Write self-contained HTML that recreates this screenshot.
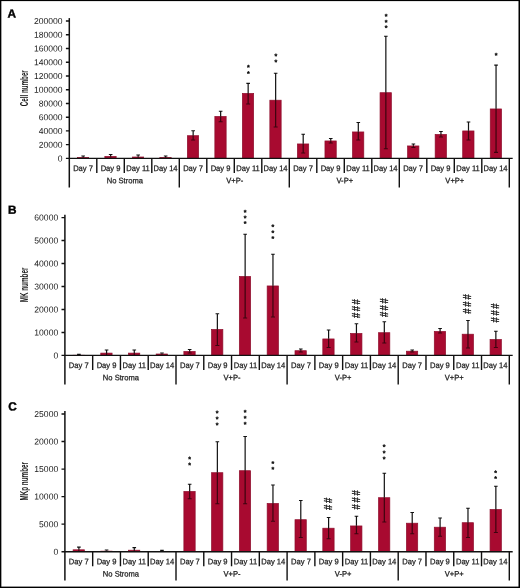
<!DOCTYPE html>
<html lang="en"><head><meta charset="utf-8"><title>Figure</title>
<style>html,body{margin:0;padding:0;background:#fff}body{width:520px;height:588px;overflow:hidden}svg{display:block;will-change:transform}
text{font-family:"Liberation Sans",Arial,Helvetica,sans-serif;fill:#222222}
.t{font-size:8.6px;text-anchor:end}
.d{font-size:8.0px;text-anchor:middle;stroke:#222222;stroke-width:.25px}
.g{font-size:7.9px;text-anchor:middle;stroke:#222222;stroke-width:.25px}
.L{font-size:11.8px;font-weight:bold;fill:#000;stroke:#000;stroke-width:.4px}
.y{font-size:10.0px;font-weight:bold;text-anchor:middle;fill:#1a1a1a}
.a{font-size:7.0px;font-weight:bold;text-anchor:middle;fill:#000;stroke:#000;stroke-width:.3px;stroke-linejoin:round}
.h{font-size:9.5px;text-anchor:middle;fill:#111;stroke:#111;stroke-width:.25px}
.b{fill:#a80a30;stroke:#8e0f2d;stroke-width:.7px}
.l{stroke:#111111;stroke-width:1.4;fill:none}.e{stroke:#111111;stroke-width:1.2;fill:none}.i{stroke:#3d040f;stroke-width:1.2;fill:none}
</style></head><body>
<svg width="520" height="588" viewBox="0 0 520 588">
<rect x="0" y="0" width="520" height="588" fill="#fff"/>
<rect x="0" y="0" width="520" height="1.1" fill="#000"/>
<rect x="0" y="0" width="1.35" height="588" fill="#000"/>
<rect x="518.5" y="0" width="1.5" height="588" fill="#000"/>
<rect x="0" y="586.6" width="520" height="1.4" fill="#000"/>
<g>
<text class="L" transform="translate(7.50 17.60) rotate(.05)">A</text>
<text class="y" transform="translate(27.90 88.20) rotate(-90)" textLength="36.0" lengthAdjust="spacingAndGlyphs">Cell number</text>
<rect class="b" x="77.35" y="157.40" width="11.30" height="1.00"/>
<rect class="b" x="104.85" y="156.40" width="11.30" height="2.00"/>
<rect class="b" x="132.35" y="157.00" width="11.30" height="1.40"/>
<rect class="b" x="159.85" y="157.40" width="11.30" height="1.00"/>
<rect class="b" x="187.35" y="135.70" width="11.30" height="22.70"/>
<rect class="b" x="214.85" y="116.45" width="11.30" height="41.95"/>
<rect class="b" x="242.35" y="93.40" width="11.30" height="65.00"/>
<rect class="b" x="269.85" y="100.20" width="11.30" height="58.20"/>
<rect class="b" x="297.40" y="143.95" width="11.30" height="14.45"/>
<rect class="b" x="324.95" y="140.95" width="11.30" height="17.45"/>
<rect class="b" x="352.50" y="131.95" width="11.30" height="26.45"/>
<rect class="b" x="380.05" y="92.70" width="11.30" height="65.70"/>
<rect class="b" x="407.60" y="145.95" width="11.30" height="12.45"/>
<rect class="b" x="435.15" y="134.45" width="11.30" height="23.95"/>
<rect class="b" x="462.70" y="130.95" width="11.30" height="27.45"/>
<rect class="b" x="490.25" y="108.95" width="11.30" height="49.45"/>
<path class="e" d="M83.15 156.00V157.20M81.35 156.00H84.95"/>
<path class="i" d="M83.15 157.20V157.80"/>
<path class="e" d="M110.65 154.50V156.20M108.85 154.50H112.45"/>
<path class="i" d="M110.65 156.20V157.60"/>
<path class="e" d="M138.15 155.00V156.80M136.35 155.00H139.95"/>
<path class="i" d="M138.15 156.80V157.80"/>
<path class="e" d="M165.65 156.00V157.20M163.85 156.00H167.45"/>
<path class="i" d="M165.65 157.20V157.80"/>
<path class="e" d="M193.15 130.75V135.50M191.35 130.75H194.95"/>
<path class="i" d="M193.15 135.50V140.00M191.15 140.00H195.15"/>
<path class="e" d="M220.65 111.25V116.25M218.85 111.25H222.45"/>
<path class="i" d="M220.65 116.25V121.75M218.65 121.75H222.65"/>
<path class="e" d="M248.15 83.40V93.20M246.35 83.40H249.95"/>
<path class="i" d="M248.15 93.20V104.00M246.15 104.00H250.15"/>
<path class="e" d="M275.65 73.25V100.00M273.85 73.25H277.45"/>
<path class="i" d="M275.65 100.00V127.00M273.65 127.00H277.65"/>
<path class="e" d="M303.20 134.25V143.75M301.40 134.25H305.00"/>
<path class="i" d="M303.20 143.75V153.00M301.20 153.00H305.20"/>
<path class="e" d="M330.75 138.50V140.75M328.95 138.50H332.55"/>
<path class="i" d="M330.75 140.75V143.00M328.75 143.00H332.75"/>
<path class="e" d="M358.30 122.50V131.75M356.50 122.50H360.10"/>
<path class="i" d="M358.30 131.75V140.00M356.30 140.00H360.30"/>
<path class="e" d="M385.85 36.25V92.50M384.05 36.25H387.65"/>
<path class="i" d="M385.85 92.50V148.75M383.85 148.75H387.85"/>
<path class="e" d="M413.40 144.00V145.75M411.60 144.00H415.20"/>
<path class="i" d="M413.40 145.75V147.50M411.40 147.50H415.40"/>
<path class="e" d="M440.95 131.50V134.25M439.15 131.50H442.75"/>
<path class="i" d="M440.95 134.25V137.00M438.95 137.00H442.95"/>
<path class="e" d="M468.50 122.00V130.75M466.70 122.00H470.30"/>
<path class="i" d="M468.50 130.75V140.00M466.50 140.00H470.50"/>
<path class="e" d="M496.05 65.20V108.75M494.25 65.20H497.85"/>
<path class="i" d="M496.05 108.75V152.30M494.05 152.30H498.05"/>
<path class="l" style="stroke-width:1.5" d="M69.30 18.10V187.50"/>
<path class="l" d="M68.50 158.40H512.70M65.90 158.40H69.30M65.90 144.66H69.30M65.90 130.92H69.30M65.90 117.18H69.30M65.90 103.44H69.30M65.90 89.70H69.30M65.90 75.96H69.30M65.90 62.22H69.30M65.90 48.48H69.30M65.90 34.74H69.30M65.90 21.00H69.30M96.80 158.40V173.00M124.30 158.40V173.00M151.80 158.40V173.00M179.30 158.40V187.50M206.80 158.40V173.00M234.30 158.40V173.00M261.80 158.40V173.00M289.30 158.40V187.50M316.80 158.40V173.00M344.30 158.40V173.00M371.80 158.40V173.00M399.30 158.40V187.50M426.80 158.40V173.00M454.30 158.40V173.00M481.80 158.40V173.00M509.30 158.40V187.50"/>
<text class="t" transform="translate(62.60 161.40) rotate(.05)">0</text>
<text class="t" transform="translate(62.60 147.66) rotate(.05)">20000</text>
<text class="t" transform="translate(62.60 133.92) rotate(.05)">40000</text>
<text class="t" transform="translate(62.60 120.18) rotate(.05)">60000</text>
<text class="t" transform="translate(62.60 106.44) rotate(.05)">80000</text>
<text class="t" transform="translate(62.60 92.70) rotate(.05)">100000</text>
<text class="t" transform="translate(62.60 78.96) rotate(.05)">120000</text>
<text class="t" transform="translate(62.60 65.22) rotate(.05)">140000</text>
<text class="t" transform="translate(62.60 51.48) rotate(.05)">160000</text>
<text class="t" transform="translate(62.60 37.74) rotate(.05)">180000</text>
<text class="t" transform="translate(62.60 24.00) rotate(.05)">200000</text>
<text class="d" transform="translate(83.05 171.00) rotate(.05) scale(.95 1)">Day 7</text>
<text class="d" transform="translate(110.55 171.00) rotate(.05) scale(.95 1)">Day 9</text>
<text class="d" transform="translate(138.05 171.00) rotate(.05) scale(.95 1)">Day 11</text>
<text class="d" transform="translate(165.55 171.00) rotate(.05) scale(.95 1)">Day 14</text>
<text class="d" transform="translate(193.05 171.00) rotate(.05) scale(.95 1)">Day 7</text>
<text class="d" transform="translate(220.55 171.00) rotate(.05) scale(.95 1)">Day 9</text>
<text class="d" transform="translate(248.05 171.00) rotate(.05) scale(.95 1)">Day 11</text>
<text class="d" transform="translate(275.55 171.00) rotate(.05) scale(.95 1)">Day 14</text>
<text class="d" transform="translate(303.05 171.00) rotate(.05) scale(.95 1)">Day 7</text>
<text class="d" transform="translate(330.55 171.00) rotate(.05) scale(.95 1)">Day 9</text>
<text class="d" transform="translate(358.05 171.00) rotate(.05) scale(.95 1)">Day 11</text>
<text class="d" transform="translate(385.55 171.00) rotate(.05) scale(.95 1)">Day 14</text>
<text class="d" transform="translate(413.05 171.00) rotate(.05) scale(.95 1)">Day 7</text>
<text class="d" transform="translate(440.55 171.00) rotate(.05) scale(.95 1)">Day 9</text>
<text class="d" transform="translate(468.05 171.00) rotate(.05) scale(.95 1)">Day 11</text>
<text class="d" transform="translate(495.55 171.00) rotate(.05) scale(.95 1)">Day 14</text>
<text class="g" transform="translate(124.80 183.30) rotate(.05) scale(.96 1)">No Stroma</text>
<text class="g" transform="translate(234.80 183.30) rotate(.05) scale(.96 1)">V+P-</text>
<text class="g" transform="translate(344.80 183.30) rotate(.05) scale(.96 1)">V-P+</text>
<text class="g" transform="translate(454.80 183.30) rotate(.05) scale(.96 1)">V+P+</text>
<text class="a" transform="translate(248.30 69.80) rotate(.05)">*</text>
<text class="a" transform="translate(248.30 76.05) rotate(.05)">*</text>
<text class="a" transform="translate(275.80 58.55) rotate(.05)">*</text>
<text class="a" transform="translate(275.80 64.55) rotate(.05)">*</text>
<text class="a" transform="translate(386.00 18.75) rotate(.05)">*</text>
<text class="a" transform="translate(386.00 24.65) rotate(.05)">*</text>
<text class="a" transform="translate(386.00 30.35) rotate(.05)">*</text>
<text class="a" transform="translate(496.20 57.80) rotate(.05)">*</text>
</g>
<g>
<text class="L" transform="translate(8.00 213.80) rotate(.05)">B</text>
<text class="y" transform="translate(27.90 285.00) rotate(-90)" textLength="34.7" lengthAdjust="spacingAndGlyphs">MK number</text>
<rect class="b" style="stroke:none" x="72.74" y="354.90" width="12.00" height="0.50"/>
<rect class="b" x="100.78" y="353.10" width="11.30" height="2.30"/>
<rect class="b" x="128.48" y="353.10" width="11.30" height="2.30"/>
<rect class="b" x="156.17" y="354.00" width="11.30" height="1.40"/>
<rect class="b" x="183.87" y="351.45" width="11.30" height="3.95"/>
<rect class="b" x="211.56" y="329.45" width="11.30" height="25.95"/>
<rect class="b" x="239.34" y="276.45" width="11.30" height="78.95"/>
<rect class="b" x="267.16" y="285.95" width="11.30" height="69.45"/>
<rect class="b" x="294.99" y="350.70" width="11.30" height="4.70"/>
<rect class="b" x="322.81" y="338.95" width="11.30" height="16.45"/>
<rect class="b" x="350.64" y="333.45" width="11.30" height="21.95"/>
<rect class="b" x="378.52" y="332.70" width="11.30" height="22.70"/>
<rect class="b" x="406.41" y="351.20" width="11.30" height="4.20"/>
<rect class="b" x="434.29" y="331.45" width="11.30" height="23.95"/>
<rect class="b" x="462.18" y="334.20" width="11.30" height="21.20"/>
<rect class="b" x="490.06" y="339.45" width="11.30" height="15.95"/>
<path class="e" d="M78.89 354.30V354.90M77.09 354.30H80.69"/>
<path class="i" d="M78.89 354.90V355.00"/>
<path class="e" d="M106.58 350.00V352.90M104.78 350.00H108.38"/>
<path class="i" d="M106.58 352.90V355.00"/>
<path class="e" d="M134.28 350.00V352.90M132.48 350.00H136.08"/>
<path class="i" d="M134.28 352.90V355.00"/>
<path class="e" d="M161.97 353.00V353.80M160.17 353.00H163.77"/>
<path class="i" d="M161.97 353.80V354.80"/>
<path class="e" d="M189.67 349.50V351.25M187.87 349.50H191.47"/>
<path class="i" d="M189.67 351.25V353.00M187.67 353.00H191.67"/>
<path class="e" d="M217.36 313.75V329.25M215.56 313.75H219.16"/>
<path class="i" d="M217.36 329.25V345.50M215.36 345.50H219.36"/>
<path class="e" d="M245.14 234.25V276.25M243.34 234.25H246.94"/>
<path class="i" d="M245.14 276.25V318.00M243.14 318.00H247.14"/>
<path class="e" d="M272.96 254.25V285.75M271.16 254.25H274.76"/>
<path class="i" d="M272.96 285.75V317.00M270.96 317.00H274.96"/>
<path class="e" d="M300.79 349.00V350.50M298.99 349.00H302.59"/>
<path class="i" d="M300.79 350.50V352.00M298.79 352.00H302.79"/>
<path class="e" d="M328.61 330.00V338.75M326.81 330.00H330.41"/>
<path class="i" d="M328.61 338.75V347.50M326.61 347.50H330.61"/>
<path class="e" d="M356.44 323.75V333.25M354.64 323.75H358.24"/>
<path class="i" d="M356.44 333.25V342.00M354.44 342.00H358.44"/>
<path class="e" d="M384.32 321.75V332.50M382.52 321.75H386.12"/>
<path class="i" d="M384.32 332.50V343.00M382.32 343.00H386.32"/>
<path class="e" d="M412.21 350.00V351.00M410.41 350.00H414.01"/>
<path class="i" d="M412.21 351.00V352.00M410.21 352.00H414.21"/>
<path class="e" d="M440.09 328.50V331.25M438.29 328.50H441.89"/>
<path class="i" d="M440.09 331.25V333.00M438.09 333.00H442.09"/>
<path class="e" d="M467.98 320.50V334.00M466.18 320.50H469.78"/>
<path class="i" d="M467.98 334.00V348.00M465.98 348.00H469.98"/>
<path class="e" d="M495.86 331.25V339.25M494.06 331.25H497.66"/>
<path class="i" d="M495.86 339.25V347.50M493.86 347.50H497.86"/>
<path class="l" style="stroke-width:1.5" d="M64.90 214.70V384.50"/>
<path class="l" d="M64.10 355.40H512.70M61.50 355.40H64.90M61.50 332.43H64.90M61.50 309.47H64.90M61.50 286.50H64.90M61.50 263.53H64.90M61.50 240.57H64.90M61.50 217.60H64.90M92.68 355.40V370.00M120.45 355.40V370.00M148.22 355.40V370.00M176.00 355.40V384.50M203.78 355.40V370.00M231.55 355.40V370.00M259.32 355.40V370.00M287.10 355.40V384.50M314.88 355.40V370.00M342.65 355.40V370.00M370.42 355.40V370.00M398.20 355.40V384.50M425.98 355.40V370.00M453.75 355.40V370.00M481.52 355.40V370.00M509.30 355.40V384.50"/>
<text class="t" transform="translate(58.20 358.40) rotate(.05)">0</text>
<text class="t" transform="translate(58.20 335.43) rotate(.05)">10000</text>
<text class="t" transform="translate(58.20 312.47) rotate(.05)">20000</text>
<text class="t" transform="translate(58.20 289.50) rotate(.05)">30000</text>
<text class="t" transform="translate(58.20 266.53) rotate(.05)">40000</text>
<text class="t" transform="translate(58.20 243.57) rotate(.05)">50000</text>
<text class="t" transform="translate(58.20 220.60) rotate(.05)">60000</text>
<text class="d" transform="translate(78.79 368.00) rotate(.05) scale(.95 1)">Day 7</text>
<text class="d" transform="translate(106.56 368.00) rotate(.05) scale(.95 1)">Day 9</text>
<text class="d" transform="translate(134.34 368.00) rotate(.05) scale(.95 1)">Day 11</text>
<text class="d" transform="translate(162.11 368.00) rotate(.05) scale(.95 1)">Day 14</text>
<text class="d" transform="translate(189.89 368.00) rotate(.05) scale(.95 1)">Day 7</text>
<text class="d" transform="translate(217.66 368.00) rotate(.05) scale(.95 1)">Day 9</text>
<text class="d" transform="translate(245.44 368.00) rotate(.05) scale(.95 1)">Day 11</text>
<text class="d" transform="translate(273.21 368.00) rotate(.05) scale(.95 1)">Day 14</text>
<text class="d" transform="translate(300.99 368.00) rotate(.05) scale(.95 1)">Day 7</text>
<text class="d" transform="translate(328.76 368.00) rotate(.05) scale(.95 1)">Day 9</text>
<text class="d" transform="translate(356.54 368.00) rotate(.05) scale(.95 1)">Day 11</text>
<text class="d" transform="translate(384.31 368.00) rotate(.05) scale(.95 1)">Day 14</text>
<text class="d" transform="translate(412.09 368.00) rotate(.05) scale(.95 1)">Day 7</text>
<text class="d" transform="translate(439.86 368.00) rotate(.05) scale(.95 1)">Day 9</text>
<text class="d" transform="translate(467.64 368.00) rotate(.05) scale(.95 1)">Day 11</text>
<text class="d" transform="translate(495.41 368.00) rotate(.05) scale(.95 1)">Day 14</text>
<text class="g" transform="translate(120.95 380.30) rotate(.05) scale(.96 1)">No Stroma</text>
<text class="g" transform="translate(232.05 380.30) rotate(.05) scale(.96 1)">V+P-</text>
<text class="g" transform="translate(343.15 380.30) rotate(.05) scale(.96 1)">V-P+</text>
<text class="g" transform="translate(454.25 380.30) rotate(.05) scale(.96 1)">V+P+</text>
<text class="a" transform="translate(244.99 214.80) rotate(.05)">*</text>
<text class="a" transform="translate(244.99 220.55) rotate(.05)">*</text>
<text class="a" transform="translate(244.99 226.05) rotate(.05)">*</text>
<text class="a" transform="translate(272.81 229.30) rotate(.05)">*</text>
<text class="a" transform="translate(272.81 235.30) rotate(.05)">*</text>
<text class="a" transform="translate(272.81 241.05) rotate(.05)">*</text>
<text class="h" transform="translate(359.89 301.75) rotate(-90) scale(1 1.12)">#</text>
<text class="h" transform="translate(359.89 308.65) rotate(-90) scale(1 1.12)">#</text>
<text class="h" transform="translate(359.89 315.45) rotate(-90) scale(1 1.12)">#</text>
<text class="h" transform="translate(387.77 300.85) rotate(-90) scale(1 1.12)">#</text>
<text class="h" transform="translate(387.77 307.75) rotate(-90) scale(1 1.12)">#</text>
<text class="h" transform="translate(387.77 314.45) rotate(-90) scale(1 1.12)">#</text>
<text class="h" transform="translate(471.43 296.85) rotate(-90) scale(1 1.12)">#</text>
<text class="h" transform="translate(471.43 304.10) rotate(-90) scale(1 1.12)">#</text>
<text class="h" transform="translate(471.43 311.10) rotate(-90) scale(1 1.12)">#</text>
<text class="h" transform="translate(499.31 306.10) rotate(-90) scale(1 1.12)">#</text>
<text class="h" transform="translate(499.31 312.85) rotate(-90) scale(1 1.12)">#</text>
<text class="h" transform="translate(499.31 319.85) rotate(-90) scale(1 1.12)">#</text>
</g>
<g>
<text class="L" transform="translate(8.20 410.40) rotate(.05)">C</text>
<text class="y" transform="translate(27.90 481.30) rotate(-90)" textLength="38.6" lengthAdjust="spacingAndGlyphs">MKp number</text>
<rect class="b" x="73.09" y="549.80" width="11.30" height="1.90"/>
<rect class="b" style="stroke:none" x="100.43" y="550.80" width="12.00" height="0.90"/>
<rect class="b" x="128.48" y="550.20" width="11.30" height="1.50"/>
<rect class="b" style="stroke:none" x="155.82" y="551.00" width="12.00" height="0.70"/>
<rect class="b" x="183.87" y="491.45" width="11.30" height="60.25"/>
<rect class="b" x="211.56" y="472.70" width="11.30" height="79.00"/>
<rect class="b" x="239.34" y="470.70" width="11.30" height="81.00"/>
<rect class="b" x="267.16" y="503.45" width="11.30" height="48.25"/>
<rect class="b" x="294.99" y="519.70" width="11.30" height="32.00"/>
<rect class="b" x="322.81" y="528.20" width="11.30" height="23.50"/>
<rect class="b" x="350.64" y="525.95" width="11.30" height="25.75"/>
<rect class="b" x="378.52" y="497.70" width="11.30" height="54.00"/>
<rect class="b" x="406.41" y="523.20" width="11.30" height="28.50"/>
<rect class="b" x="434.29" y="527.20" width="11.30" height="24.50"/>
<rect class="b" x="462.18" y="522.70" width="11.30" height="29.00"/>
<rect class="b" x="490.06" y="509.45" width="11.30" height="42.25"/>
<path class="e" d="M78.89 547.20V549.60M77.09 547.20H80.69"/>
<path class="i" d="M78.89 549.60V551.20"/>
<path class="e" d="M106.58 550.00V550.80M104.78 550.00H108.38"/>
<path class="i" d="M106.58 550.80V551.20"/>
<path class="e" d="M134.28 547.60V550.00M132.48 547.60H136.08"/>
<path class="i" d="M134.28 550.00V551.20"/>
<path class="e" d="M161.97 550.40V551.00M160.17 550.40H163.77"/>
<path class="i" d="M161.97 551.00V551.30"/>
<path class="e" d="M189.67 484.25V491.25M187.87 484.25H191.47"/>
<path class="i" d="M189.67 491.25V498.75M187.67 498.75H191.67"/>
<path class="e" d="M217.36 441.75V472.50M215.56 441.75H219.16"/>
<path class="i" d="M217.36 472.50V503.75M215.36 503.75H219.36"/>
<path class="e" d="M245.14 436.50V470.50M243.34 436.50H246.94"/>
<path class="i" d="M245.14 470.50V503.75M243.14 503.75H247.14"/>
<path class="e" d="M272.96 485.00V503.25M271.16 485.00H274.76"/>
<path class="i" d="M272.96 503.25V521.25M270.96 521.25H274.96"/>
<path class="e" d="M300.79 500.50V519.50M298.99 500.50H302.59"/>
<path class="i" d="M300.79 519.50V537.50M298.79 537.50H302.79"/>
<path class="e" d="M328.61 517.50V528.00M326.81 517.50H330.41"/>
<path class="i" d="M328.61 528.00V538.75M326.61 538.75H330.61"/>
<path class="e" d="M356.44 516.25V525.75M354.64 516.25H358.24"/>
<path class="i" d="M356.44 525.75V533.75M354.44 533.75H358.44"/>
<path class="e" d="M384.32 473.25V497.50M382.52 473.25H386.12"/>
<path class="i" d="M384.32 497.50V522.00M382.32 522.00H386.32"/>
<path class="e" d="M412.21 512.50V523.00M410.41 512.50H414.01"/>
<path class="i" d="M412.21 523.00V533.75M410.21 533.75H414.21"/>
<path class="e" d="M440.09 518.00V527.00M438.29 518.00H441.89"/>
<path class="i" d="M440.09 527.00V536.25M438.09 536.25H442.09"/>
<path class="e" d="M467.98 508.25V522.50M466.18 508.25H469.78"/>
<path class="i" d="M467.98 522.50V537.50M465.98 537.50H469.98"/>
<path class="e" d="M495.86 486.25V509.25M494.06 486.25H497.66"/>
<path class="i" d="M495.86 509.25V532.50M493.86 532.50H497.86"/>
<path class="l" style="stroke-width:1.5" d="M64.90 411.10V580.50"/>
<path class="l" d="M64.10 551.70H512.70M61.50 551.70H64.90M61.50 524.16H64.90M61.50 496.62H64.90M61.50 469.08H64.90M61.50 441.54H64.90M61.50 414.00H64.90M92.68 551.70V566.20M120.45 551.70V566.20M148.22 551.70V566.20M176.00 551.70V580.50M203.78 551.70V566.20M231.55 551.70V566.20M259.32 551.70V566.20M287.10 551.70V580.50M314.88 551.70V566.20M342.65 551.70V566.20M370.42 551.70V566.20M398.20 551.70V580.50M425.98 551.70V566.20M453.75 551.70V566.20M481.52 551.70V566.20M509.30 551.70V580.50"/>
<text class="t" transform="translate(58.20 554.70) rotate(.05)">0</text>
<text class="t" transform="translate(58.20 527.16) rotate(.05)">5000</text>
<text class="t" transform="translate(58.20 499.62) rotate(.05)">10000</text>
<text class="t" transform="translate(58.20 472.08) rotate(.05)">15000</text>
<text class="t" transform="translate(58.20 444.54) rotate(.05)">20000</text>
<text class="t" transform="translate(58.20 417.00) rotate(.05)">25000</text>
<text class="d" transform="translate(78.79 564.30) rotate(.05) scale(.95 1)">Day 7</text>
<text class="d" transform="translate(106.56 564.30) rotate(.05) scale(.95 1)">Day 9</text>
<text class="d" transform="translate(134.34 564.30) rotate(.05) scale(.95 1)">Day 11</text>
<text class="d" transform="translate(162.11 564.30) rotate(.05) scale(.95 1)">Day 14</text>
<text class="d" transform="translate(189.89 564.30) rotate(.05) scale(.95 1)">Day 7</text>
<text class="d" transform="translate(217.66 564.30) rotate(.05) scale(.95 1)">Day 9</text>
<text class="d" transform="translate(245.44 564.30) rotate(.05) scale(.95 1)">Day 11</text>
<text class="d" transform="translate(273.21 564.30) rotate(.05) scale(.95 1)">Day 14</text>
<text class="d" transform="translate(300.99 564.30) rotate(.05) scale(.95 1)">Day 7</text>
<text class="d" transform="translate(328.76 564.30) rotate(.05) scale(.95 1)">Day 9</text>
<text class="d" transform="translate(356.54 564.30) rotate(.05) scale(.95 1)">Day 11</text>
<text class="d" transform="translate(384.31 564.30) rotate(.05) scale(.95 1)">Day 14</text>
<text class="d" transform="translate(412.09 564.30) rotate(.05) scale(.95 1)">Day 7</text>
<text class="d" transform="translate(439.86 564.30) rotate(.05) scale(.95 1)">Day 9</text>
<text class="d" transform="translate(467.64 564.30) rotate(.05) scale(.95 1)">Day 11</text>
<text class="d" transform="translate(495.41 564.30) rotate(.05) scale(.95 1)">Day 14</text>
<text class="g" transform="translate(120.95 576.60) rotate(.05) scale(.96 1)">No Stroma</text>
<text class="g" transform="translate(232.05 576.60) rotate(.05) scale(.96 1)">V+P-</text>
<text class="g" transform="translate(343.15 576.60) rotate(.05) scale(.96 1)">V-P+</text>
<text class="g" transform="translate(454.25 576.60) rotate(.05) scale(.96 1)">V+P+</text>
<text class="a" transform="translate(189.52 461.55) rotate(.05)">*</text>
<text class="a" transform="translate(189.52 467.55) rotate(.05)">*</text>
<text class="a" transform="translate(217.21 415.45) rotate(.05)">*</text>
<text class="a" transform="translate(217.21 421.55) rotate(.05)">*</text>
<text class="a" transform="translate(217.21 427.45) rotate(.05)">*</text>
<text class="a" transform="translate(244.99 414.75) rotate(.05)">*</text>
<text class="a" transform="translate(244.99 420.85) rotate(.05)">*</text>
<text class="a" transform="translate(244.99 426.65) rotate(.05)">*</text>
<text class="a" transform="translate(272.81 466.05) rotate(.05)">*</text>
<text class="a" transform="translate(272.81 471.80) rotate(.05)">*</text>
<text class="a" transform="translate(384.17 449.30) rotate(.05)">*</text>
<text class="a" transform="translate(384.17 455.55) rotate(.05)">*</text>
<text class="a" transform="translate(384.17 461.55) rotate(.05)">*</text>
<text class="a" transform="translate(495.71 475.30) rotate(.05)">*</text>
<text class="a" transform="translate(495.71 481.05) rotate(.05)">*</text>
<text class="h" transform="translate(332.06 500.35) rotate(-90) scale(1 1.12)">#</text>
<text class="h" transform="translate(332.06 507.35) rotate(-90) scale(1 1.12)">#</text>
<text class="h" transform="translate(359.89 492.85) rotate(-90) scale(1 1.12)">#</text>
<text class="h" transform="translate(359.89 499.85) rotate(-90) scale(1 1.12)">#</text>
<text class="h" transform="translate(359.89 506.85) rotate(-90) scale(1 1.12)">#</text>
</g>
</svg></body></html>
